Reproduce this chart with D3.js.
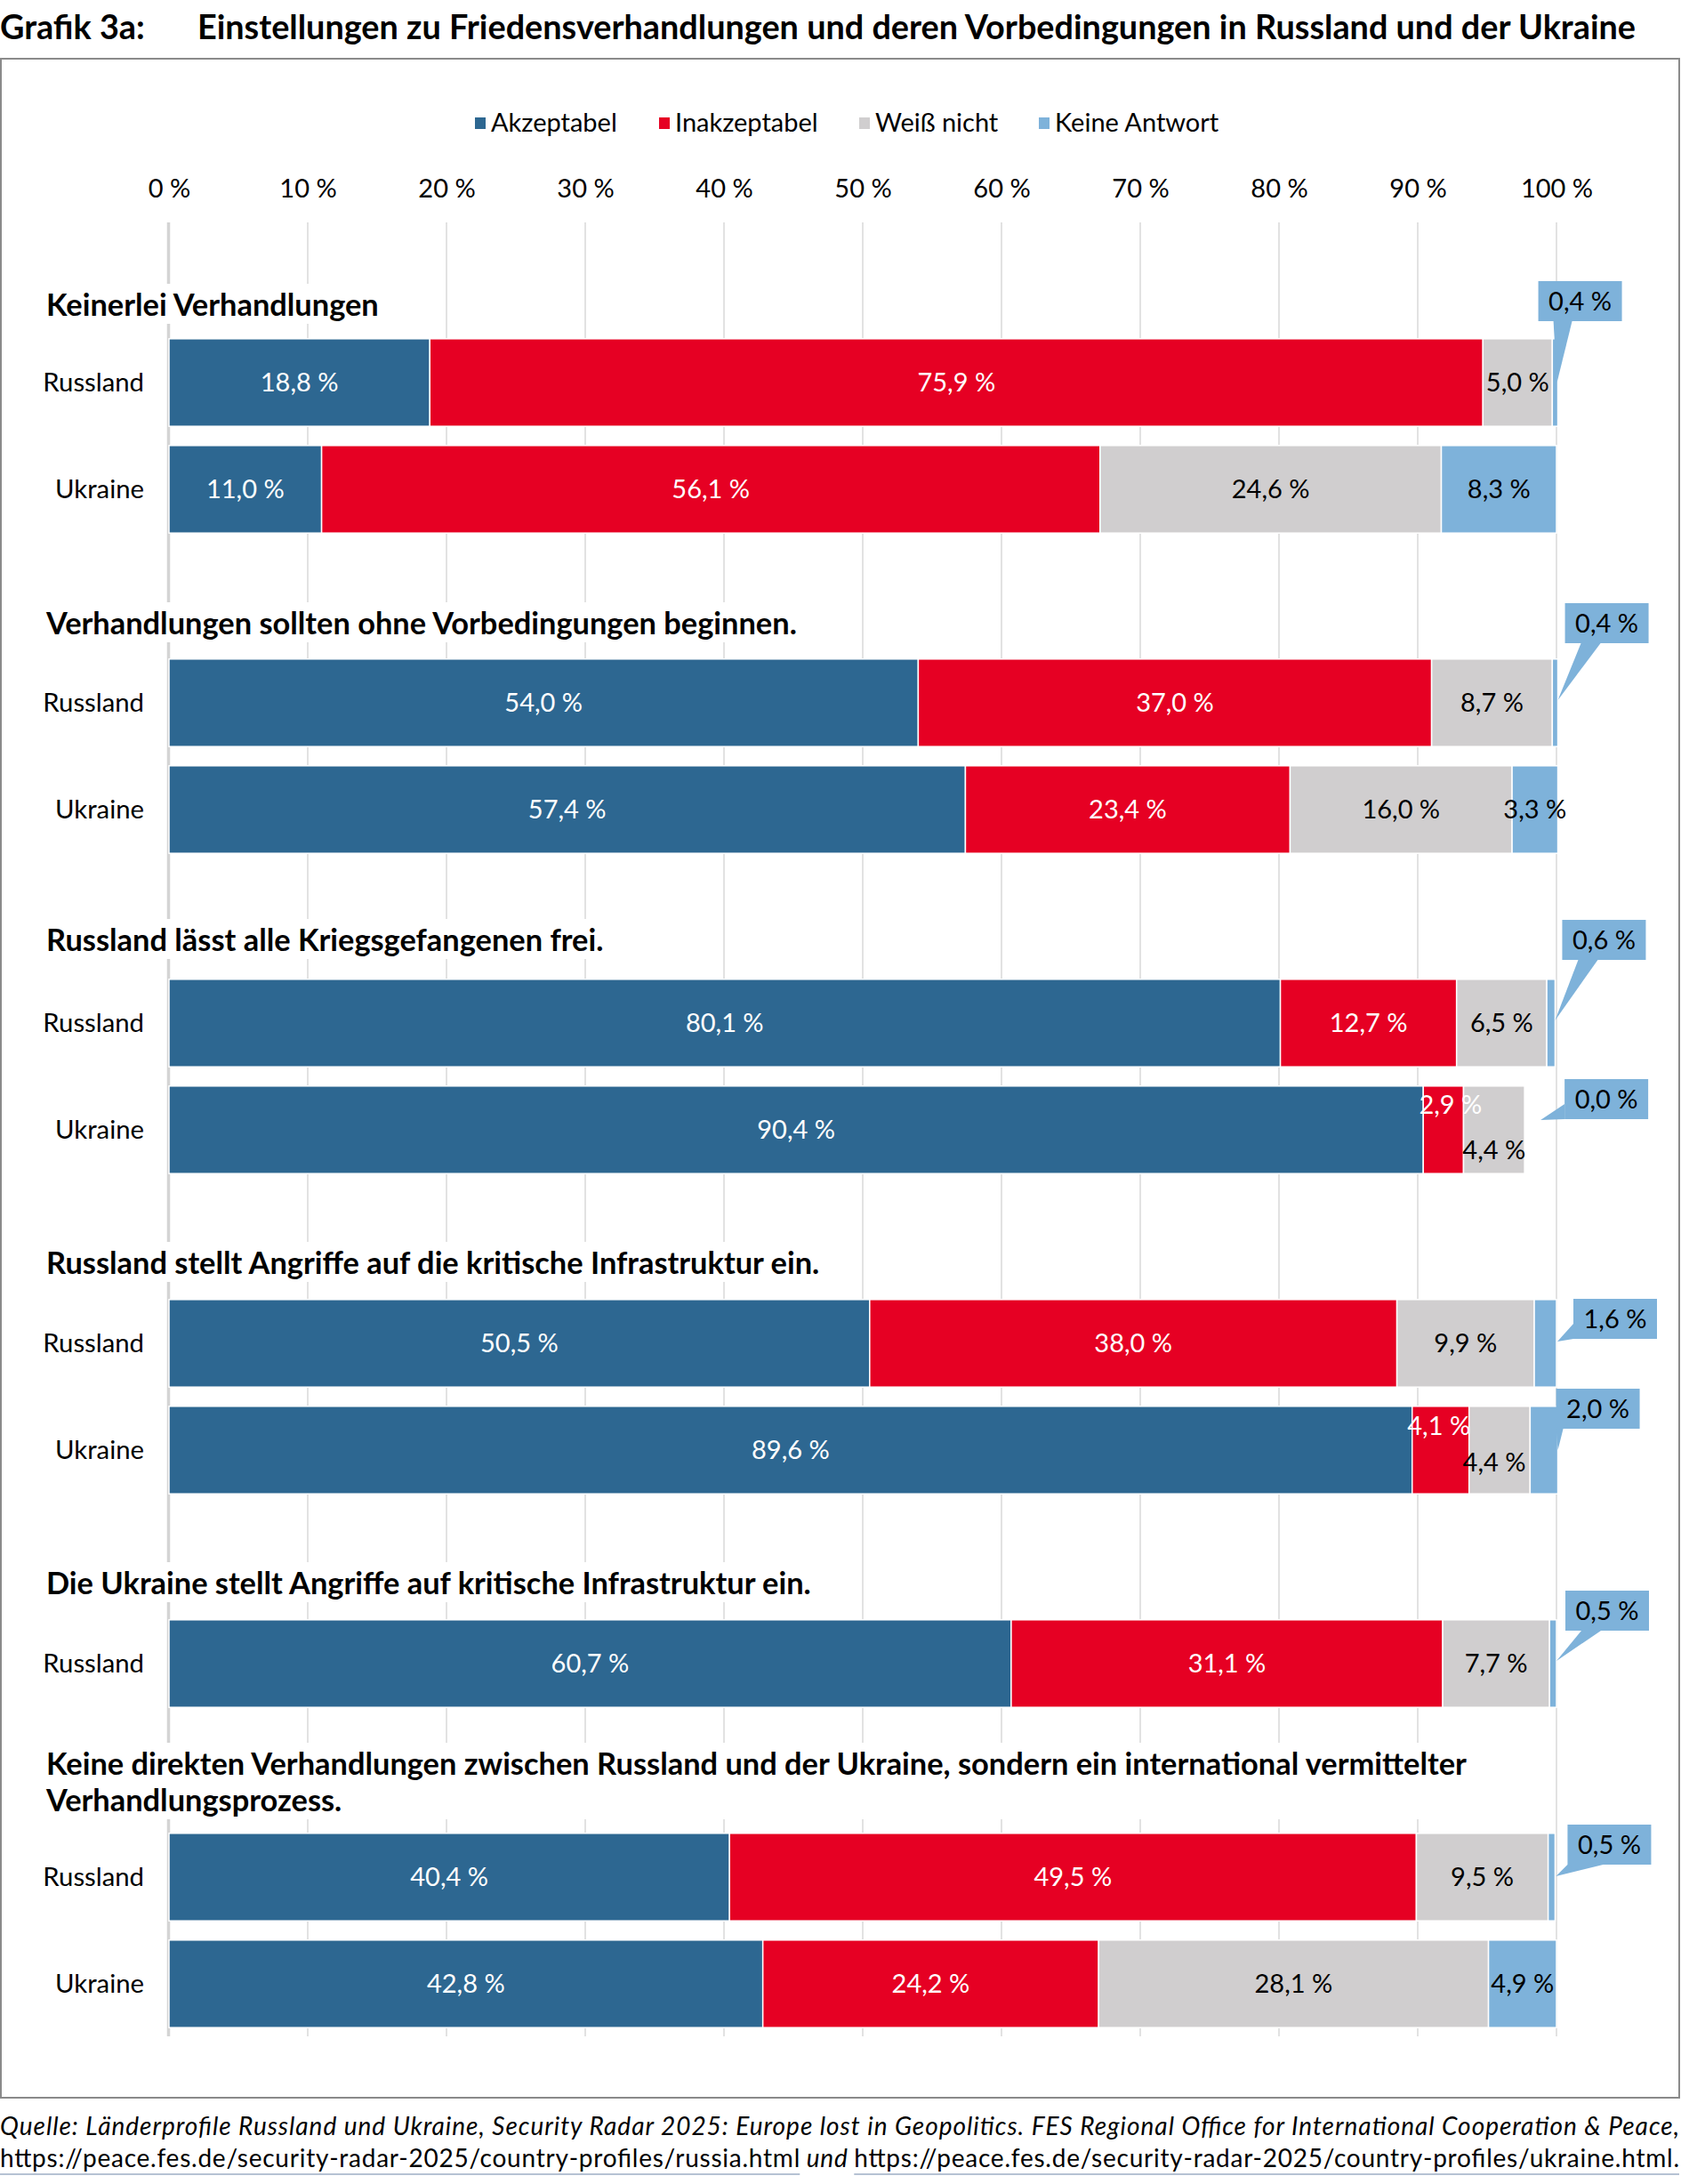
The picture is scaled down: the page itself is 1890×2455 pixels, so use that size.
<!DOCTYPE html>
<html><head><meta charset="utf-8">
<script src="https://cdn.jsdelivr.net/npm/d3@7"></script>
<style>
html,body{margin:0;padding:0;background:#fff;}
svg text{font-family:Lato,"Noto Sans",sans-serif;}
</style></head>
<body>
<svg id="chart" width="1890" height="2455"></svg>
<script>
// ---------- DATA ----------
const seriesNames = ["Akzeptabel", "Inakzeptabel", "Weiß nicht", "Keine Antwort"];
const questions = [
  ["Keinerlei Verhandlungen"],
  ["Verhandlungen sollten ohne Vorbedingungen beginnen."],
  ["Russland lässt alle Kriegsgefangenen frei."],
  ["Russland stellt Angriffe auf die kritische Infrastruktur ein."],
  ["Die Ukraine stellt Angriffe auf kritische Infrastruktur ein."],
  ["Keine direkten Verhandlungen zwischen Russland und der Ukraine, sondern ein international vermittelter", "Verhandlungsprozess."]
];
const countries = [["Russland","Ukraine"],["Russland","Ukraine"],["Russland","Ukraine"],["Russland","Ukraine"],["Russland"],["Russland","Ukraine"]];
const akzeptabel   = [[18.8,11.0],[54.0,57.4],[80.1,90.4],[50.5,89.6],[60.7],[40.4,42.8]];
const inakzeptabel = [[75.9,56.1],[37.0,23.4],[12.7,2.9],[38.0,4.1],[31.1],[49.5,24.2]];
const weissNicht   = [[5.0,24.6],[8.7,16.0],[6.5,4.4],[9.9,4.4],[7.7],[9.5,28.1]];
const keineAntwort = [[0.4,8.3],[0.4,3.3],[0.6,0.0],[1.6,2.0],[0.5],[0.5,4.9]];
const tickValues = [0,10,20,30,40,50,60,70,80,90,100];
const tickLabels = ["0 %","10 %","20 %","30 %","40 %","50 %","60 %","70 %","80 %","90 %","100 %"];
const colors = ["#2D6791","#E60023","#D0CECF","#7EB2DA"];
const labelColors = ["#ffffff","#ffffff","#000000","#000000"];

// ---------- LAYOUT (style / position only) ----------
const callouts = [
  {q:0,c:0, bx:-22, by:-114, ptr:"down"},
  {q:1,c:0, bx:8,   by:-112, ptr:"downleft"},
  {q:2,c:0, bx:8,   by:-116, ptr:"downleft"},
  {q:2,c:1, bx:45,  by:-57,  ptr:"left0"},
  {q:3,c:0, bx:19,  by:-50,  ptr:"left"},
  {q:3,c:1, bx:-2,  by:-69,  ptr:"downv"},
  {q:4,c:0, bx:10,  by:-82,  ptr:"downleft"},
  {q:5,c:0, bx:14,  by:-59,  ptr:"flat"}
];
const nudges = [[2,1,1,8,-28],[2,1,2,0,23],[3,1,1,-2,-27],[3,1,2,-6,14]];
const headingShift = [3, 1, -3, 0, 0, 4];

const fmt = v => v.toFixed(1).replace(".", ",") + " %";

const rows = [];
questions.forEach((q,qi)=>{
  rows.push({type:"gap", id:"g"+qi, q:qi});
  countries[qi].forEach((c,ci)=>{
    const vals = [akzeptabel[qi][ci], inakzeptabel[qi][ci], weissNicht[qi][ci], keineAntwort[qi][ci]];
    rows.push({type:"bar", id:"b"+qi+"_"+ci, q:qi, c:ci, name:c, vals});
  });
});

const svg = d3.select("#chart");
const x = d3.scaleLinear().domain([0,100]).range([190,1750]);
const y = d3.scaleBand().domain(rows.map(r=>r.id)).range([250,2290]).paddingInner(0.18).paddingOuter(0.09);

// Title
svg.append("text").attr("x",0).attr("y",44).attr("font-size",37.8).attr("font-weight",700).attr("fill","#000").text("Grafik 3a:");
svg.append("text").attr("x",222).attr("y",44).attr("font-size",37.8).attr("font-weight",700).attr("fill","#000")
  .text("Einstellungen zu Friedensverhandlungen und deren Vorbedingungen in Russland und der Ukraine");

// Border
svg.append("rect").attr("x",1).attr("y",66).attr("width",1887).attr("height",2292)
  .attr("fill","none").attr("stroke","#8a8a8a").attr("stroke-width",2);

// Legend
const legendPos = [534, 741, 966, 1168];
const lg = svg.append("g");
seriesNames.forEach((s,i)=>{
  lg.append("rect").attr("x",legendPos[i]).attr("y",132).attr("width",12).attr("height",13).attr("fill",colors[i]);
  lg.append("text").attr("x",legendPos[i]+18).attr("y",148).attr("font-size",29).attr("fill","#000").text(s);
});

// Axis (top)
const axis = d3.axisTop(x).tickValues(tickValues).tickFormat((d,i)=>tickLabels[i]).tickSize(0).tickPadding(0);
const ag = svg.append("g").attr("transform","translate(0,222)").call(axis);
ag.select(".domain").remove();
ag.selectAll("text").attr("font-size",29).attr("fill","#000").attr("font-family","Lato");

// Gridlines
const gTop = 250, gBot = 2289;
svg.append("g").selectAll("line").data(tickValues.filter(d=>d>0)).join("line")
  .attr("x1",d=>x(d)).attr("x2",d=>x(d)).attr("y1",gTop).attr("y2",gBot)
  .attr("stroke","#d9d9d9").attr("stroke-width",1.5);
svg.append("line").attr("x1",x(0)-0.5).attr("x2",x(0)-0.5).attr("y1",gTop).attr("y2",gBot)
  .attr("stroke","#d4d4d4").attr("stroke-width",3.5);

// Question headings (with white box hiding gridlines)
const hg = svg.append("g");
rows.filter(r=>r.type==="gap").forEach(r=>{
  const lines = questions[r.q];
  const lastC = y(r.id) + y.bandwidth()/2 + 30 + headingShift[r.q];
  const lh = 41;
  const g = hg.append("g");
  const bg = g.append("rect").attr("fill","#fff");
  const t = g.append("text").attr("font-size",34.4).attr("font-weight",700).attr("fill","#000");
  lines.forEach((ln,i)=>{
    t.append("tspan").attr("x",52).attr("y", lastC - (lines.length-1-i)*lh + 12).text(ln);
  });
  const bb = t.node().getBBox();
  bg.attr("x",bb.x-6).attr("y",bb.y-2).attr("width",bb.width+12).attr("height",bb.height+4);
});

// Bars
const barRows = rows.filter(r=>r.type==="bar");
const segs = [];
barRows.forEach(r=>{
  let acc = 0;
  r.vals.forEach((v,si)=>{ segs.push({r, si, v, x0:acc, x1:acc+v}); acc += v; });
  r.total = acc;
});
svg.append("g").selectAll("rect").data(segs).join("rect")
  .attr("x",d=>x(d.x0)).attr("width",d=>Math.max(0,x(d.x1)-x(d.x0)))
  .attr("y",d=>y(d.r.id)).attr("height",y.bandwidth())
  .attr("fill",d=>colors[d.si]).attr("stroke","#fff").attr("stroke-width",1.5);

// Category labels
svg.append("g").selectAll("text").data(barRows).join("text")
  .attr("x",162).attr("y",d=>y(d.id)+y.bandwidth()/2).attr("dy","0.35em")
  .attr("text-anchor","end").attr("font-size",29.3).attr("fill","#000").text(d=>d.name);

// Value labels
const isCallout = d => d.si===3 && callouts.some(c=>c.q===d.r.q && c.c===d.r.c);
svg.append("g").selectAll("text").data(segs.filter(d=>!isCallout(d))).join("text")
  .attr("x",d=>{ const n = nudges.find(k=>k[0]===d.r.q&&k[1]===d.r.c&&k[2]===d.si); return (x(d.x0)+x(d.x1))/2 + (n?n[3]:0); })
  .attr("y",d=>{ const n = nudges.find(k=>k[0]===d.r.q&&k[1]===d.r.c&&k[2]===d.si); return y(d.r.id)+y.bandwidth()/2 + (n?n[4]:0); })
  .attr("dy","0.36em").attr("text-anchor","middle").attr("font-size",29)
  .attr("fill",d=>labelColors[d.si]).text(d=>fmt(d.v));

// Callouts
const cg = svg.append("g");
const BW = 94, BH = 45;
callouts.forEach(co=>{
  const r = barRows.find(b=>b.q===co.q && b.c===co.c);
  const xe = x(r.total), cy = y(r.id)+y.bandwidth()/2;
  const bx = xe + co.bx, by = cy + co.by;
  let pts;
  if (co.ptr==="down") pts = [[bx+17,by+BH],[bx+38,by+BH],[xe-1,cy]];
  else if (co.ptr==="downleft") pts = [[bx+18,by+BH],[bx+40,by+BH],[xe,cy-3]];
  else if (co.ptr==="left0") pts = [[bx,by+28],[bx,by+BH],[xe+18,cy-11]];
  else if (co.ptr==="left") pts = [[bx,by+28],[bx,by+BH],[xe+1,cy-2]];
  else if (co.ptr==="downv") pts = [[bx,by+BH],[bx+8,by+BH],[xe,cy]];
  else pts = [[bx,by+BH],[bx+40,by+BH],[xe+1,cy-1]];
  cg.append("polygon").attr("points",pts.map(p=>p.join(",")).join(" ")).attr("fill",colors[3]);
  cg.append("rect").attr("x",bx).attr("y",by).attr("width",BW).attr("height",BH).attr("fill",colors[3]);
  cg.append("text").attr("x",bx+BW/2).attr("y",by+BH/2).attr("dy","0.36em").attr("text-anchor","middle")
    .attr("font-size",29).attr("fill","#000").text(fmt(r.vals[3]));
});

// Footer
const FS = 28, FULLW = 1888;
const f1 = svg.append("text").attr("x",0).attr("y",2400).attr("font-size",FS).attr("font-style","italic").attr("fill","#000")
  .text("Quelle: Länderprofile Russland und Ukraine, Security Radar 2025: Europe lost in Geopolitics. FES Regional Office for International Cooperation & Peace,");
f1.attr("textLength",FULLW).attr("lengthAdjust","spacing");
const parts = [
  {t:"https://peace.fes.de/security-radar-2025/country-profiles/russia.html", it:false, ul:true},
  {t:" und ", it:true, ul:false},
  {t:"https://peace.fes.de/security-radar-2025/country-profiles/ukraine.html.", it:false, ul:true}
];
const tmp = parts.map(p=>{
  const t = svg.append("text").attr("font-size",FS).attr("font-style",p.it?"italic":"normal").style("white-space","pre").text(p.t);
  const w = t.node().getComputedTextLength(); t.remove(); return w;
});
const natural = d3.sum(tmp);
const ratio = FULLW / natural;
let cx = 0;
parts.forEach((p,i)=>{
  const w = tmp[i]*ratio;
  const t = svg.append("text").attr("x",cx).attr("y",2436).attr("font-size",FS)
    .attr("font-style",p.it?"italic":"normal").attr("fill","#000").style("white-space","pre")
    .attr("textLength",w).attr("lengthAdjust","spacing").text(p.t);
  if (p.ul) svg.append("line").attr("x1",cx).attr("x2",cx+w).attr("y1",2444).attr("y2",2444).attr("stroke","#b6c2d3").attr("stroke-width",2);
  cx += w;
});
</script>
</body></html>
